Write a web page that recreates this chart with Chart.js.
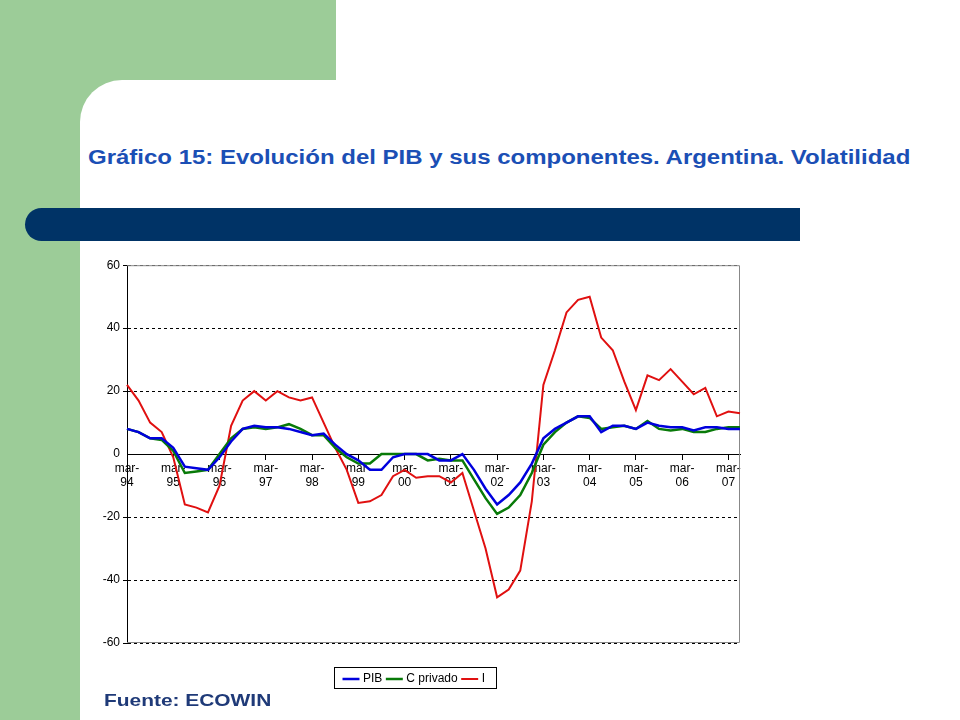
<!DOCTYPE html>
<html><head><meta charset="utf-8">
<script src="https://cdn.jsdelivr.net/npm/chart.js@4/dist/chart.umd.min.js"></script>
<style>
body{margin:0;width:960px;height:720px;position:relative;background:#fff;font-family:"Liberation Sans",Arial,sans-serif;overflow:hidden}
.g1{position:absolute;left:0;top:0;width:80px;height:720px;background:#9ccc98}
.g2{position:absolute;left:0;top:0;width:336px;height:80px;background:#9ccc98}
.gc{position:absolute;left:80px;top:80px;width:50px;height:50px;background:#9ccc98}
.corner{position:absolute;left:80px;top:80px;width:60px;height:60px;background:#fff;border-top-left-radius:42px}
.bar{position:absolute;left:25px;top:208px;width:775px;height:33px;background:#003366;border-top-left-radius:17px;border-bottom-left-radius:17px}
.title{position:absolute;left:88px;top:146px;font-size:19.5px;font-weight:bold;color:#1b4fb5;transform-origin:0 0;transform:scale(1.23,1.0);white-space:nowrap}
.src{position:absolute;left:104px;top:691px;font-size:17px;font-weight:bold;color:#1f3a78;transform-origin:0 0;transform:scale(1.23,1.0);white-space:nowrap}
#wrap{position:absolute;left:90px;top:255px;width:656px;height:440px}
</style></head><body>
<div class="g1"></div><div class="g2"></div><div class="gc"></div><div class="corner"></div>
<div class="title">Gráfico 15: Evolución del PIB y sus componentes. Argentina. Volatilidad</div>
<div class="bar"></div>
<div id="wrap"><canvas id="c"></canvas></div>
<div class="src">Fuente: ECOWIN</div>
<script>
const years=['94','95','96','97','98','99','00','01','02','03','04','05','06','07'];
const quarters=['mar','jun','sep','dic'];
const categories=[];
for(const y of years){for(const q of quarters){categories.push(q+'-'+y);}}
categories.length=54;
const pib=[8,7,5,5,2,-4,-4.5,-5,-1,4,8,9,8.5,8.5,8,7,6,6.5,3,0,-2,-5,-5,-1,0,0,0,-2,-2,0,-5,-11,-16,-13,-9,-3,5,8,10,12,12,7,9,9,8,10,9,8.5,8.5,7.5,8.5,8.5,8,8];
const cPrivado=[8,7,5,4.5,1,-6,-5.5,-5,0,5,8,8.5,8,8.5,9.5,8,6,6,2,-1,-3,-3,0,0,0,0,-2,-1.5,-2,-2,-8,-14,-19,-17,-13,-6,3,7,10,12,11.5,8,8.5,9,8,10.5,8,7.5,8,7,7,8,8.5,8.5];
const inversion=[22,17,10,7,-1,-16,-17,-18.5,-10,9,17,20,17,20,18,17,18,10,2,-5,-15.5,-15,-13,-7,-5,-7.5,-7,-7,-9,-6,-18,-30,-45.5,-43,-37,-15,22,33,45,49,50,37,33,23,14,25,23.5,27,23,19,21,12,13.5,13];
const yTicks=[-60,-40,-20,0,20,40,60];

const deco={id:'deco',
 beforeDatasetsDraw(ch){const a=ch.chartArea,c=ch.ctx;c.save();c.strokeStyle='#888';c.lineWidth=1;
  c.beginPath();c.moveTo(a.left,a.top+0.5);c.lineTo(a.right-0.5,a.top+0.5);c.lineTo(a.right-0.5,a.bottom-0.5);c.lineTo(a.left,a.bottom-0.5);c.stroke();c.restore();},
 afterDraw(ch){const l=ch.legend,c=ch.ctx;c.save();c.strokeStyle='#000';c.lineWidth=1;
  c.strokeRect(Math.round(l.left+l.width/2-81)+0.5,Math.round(l.top)+0.5,162,21);c.restore();}};

new Chart(document.getElementById('c'),{type:'line',
 data:{labels:categories,datasets:[
  {label:'PIB',data:pib,borderColor:'#0000dd',borderWidth:2.5},
  {label:'C privado',data:cPrivado,borderColor:'#087a08',borderWidth:2.5},
  {label:'I',data:inversion,borderColor:'#e01010',borderWidth:2}]},
 options:{responsive:true,maintainAspectRatio:false,animation:false,
  elements:{point:{radius:0},line:{tension:0}},
  layout:{padding:{top:8,right:6,left:0,bottom:0}},
  plugins:{tooltip:{enabled:false},
   legend:{position:'bottom',labels:{usePointStyle:true,pointStyle:'line',boxWidth:22,padding:6,color:'#000',font:{family:'Liberation Sans',size:12}}}},
  scales:{
   x:{position:{y:0},offset:false,
    grid:{drawOnChartArea:false,tickLength:5,color:(c)=>c.index%4===0?'#000':'rgba(0,0,0,0)'},
    border:{color:'#000',width:1},
    ticks:{autoSkip:false,maxRotation:0,padding:2,color:'#000',font:{family:'Liberation Sans',size:12},
     callback:(v,i)=>i%4===0?['mar-',categories[i].slice(4)]:''}},
   x2:{type:'category',position:'bottom',labels:[''],afterFit:(s)=>{s.height=24;},
    grid:{display:false,drawTicks:false},border:{display:false},ticks:{display:false}},
   y:{min:-60,max:60,afterFit:(s)=>{s.width=37;},
    afterBuildTicks:(s)=>{s.ticks=yTicks.map(v=>({value:v}));},
    grid:{color:(c)=>c.tick&&c.tick.value===0?'rgba(0,0,0,0)':'#000',drawTicks:true,tickLength:4},
    border:{color:'#000',dash:[3,3]},
    ticks:{color:'#000',padding:3,font:{family:'Liberation Sans',size:12}}}}},
 plugins:[deco]});
</script></body></html>
